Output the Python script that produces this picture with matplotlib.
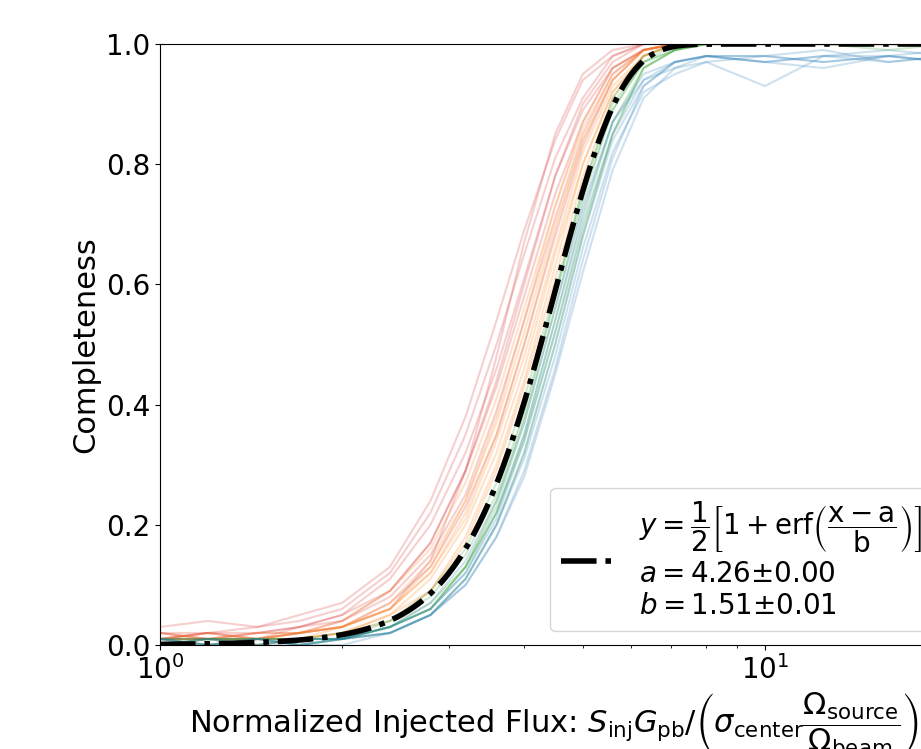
import math
import numpy as np
import matplotlib
matplotlib.use("Agg")
import matplotlib.pyplot as plt

# injected flux grid (normalized)
FLUX = [1.0, 1.2, 1.45, 1.7, 2.0, 2.4, 2.8, 3.2, 3.6, 4.0,
        4.5, 5.0, 5.6, 6.3, 7.1, 8.0, 10.0, 12.5, 16.0, 20.0]

# completeness curves, grouped by colour
RED_CURVES = [
    [.03, .04, .03, .05, .07, .13, .24, .38, .54, .69, .84, .94, .98, 1, 1, 1, 1, 1, 1, 1],
    [.02, .02, .03, .04, .06, .12, .22, .35, .50, .65, .81, .91, .98, 1, 1, 1, 1, 1, 1, 1],
    [.01, .02, .02, .03, .05, .11, .20, .32, .46, .61, .78, .89, .96, .99, 1, 1, 1, 1, 1, 1],
    [.02, .01, .02, .03, .05, .09, .17, .29, .43, .58, .75, .87, .96, .99, 1, 1, 1, 1, 1, 1],
    [.01, .02, .01, .02, .04, .08, .15, .25, .39, .54, .71, .85, .95, .99, 1, 1, 1, 1, 1, 1],
    [.01, .01, .02, .02, .03, .07, .13, .23, .35, .50, .68, .83, .94, .99, 1, 1, 1, 1, 1, 1],
    [.01, .02, .01, .02, .03, .06, .14, .29, .48, .67, .85, .95, .99, 1, 1, 1, 1, 1, 1, 1],
    [.02, .01, .01, .03, .04, .09, .17, .29, .44, .60, .78, .90, .97, 1, 1, 1, 1, 1, 1, 1],
]
ORANGE_CURVES = [
    [.01, .02, .01, .02, .04, .09, .16, .27, .41, .56, .73, .86, .95, .99, 1, 1, 1, 1, 1, 1],
    [.01, .01, .02, .02, .03, .07, .14, .24, .37, .52, .70, .84, .94, .99, 1, 1, 1, 1, 1, 1],
    [.00, .01, .01, .02, .03, .06, .12, .22, .35, .50, .69, .84, .94, .99, 1, 1, 1, 1, 1, 1],
    [.01, .01, .01, .01, .03, .06, .12, .21, .34, .48, .66, .82, .93, .98, 1, 1, 1, 1, 1, 1],
    [.01, .00, .01, .01, .02, .05, .11, .20, .32, .46, .65, .80, .92, .98, 1, 1, 1, 1, 1, 1],
    [.01, .01, .00, .01, .02, .04, .09, .18, .30, .44, .63, .80, .92, .98, 1, 1, 1, 1, 1, 1],
    [.01, .01, .01, .01, .02, .05, .09, .17, .29, .43, .61, .78, .91, .98, 1, 1, 1, 1, 1, 1],
    [.02, .01, .01, .02, .03, .06, .13, .24, .38, .54, .73, .87, .96, .99, 1, 1, 1, 1, 1, 1],
]
GREEN_CURVES = [
    [.01, .01, .01, .01, .02, .04, .09, .16, .27, .41, .59, .76, .90, .97, .99, 1, 1, 1, 1, 1],
    [.01, .01, .00, .01, .01, .04, .08, .15, .25, .39, .58, .75, .89, .97, .99, 1, 1, 1, 1, 1],
    [.00, .01, .01, .01, .01, .03, .06, .13, .23, .37, .56, .74, .89, .97, 1, 1, 1, 1, .99, 1],
    [.01, .00, .01, .01, .01, .03, .06, .13, .22, .35, .54, .71, .87, .96, .99, 1, 1, 1, 1, 1],
    [.00, .01, .00, .01, .01, .03, .07, .13, .22, .34, .52, .69, .85, .96, .99, 1, 1, 1, 1, 1],
    [.01, .00, .01, .00, .01, .03, .06, .13, .24, .38, .58, .76, .91, .98, 1, 1, 1, 1, 1, 1],
    [.00, .01, .01, .00, .01, .02, .05, .11, .20, .32, .50, .68, .85, .96, .99, 1, 1, 1, 1, 1],
]
BLUE_CURVES = [
    [.01, .00, .01, .01, .01, .03, .07, .14, .24, .37, .56, .73, .87, .95, .97, .98, .97, .98, .99, .98],
    [.00, .01, .01, .00, .01, .03, .06, .12, .21, .34, .52, .70, .85, .94, .97, .98, .98, .97, .98, .97],
    [.01, .00, .00, .01, .01, .02, .05, .11, .20, .31, .48, .66, .82, .92, .95, .97, .93, .98, .97, .98],
    [.00, .01, .00, .00, .01, .02, .05, .10, .18, .29, .46, .64, .81, .93, .97, .98, .97, .96, .98, .97],
    [.01, .00, .01, .00, .00, .02, .05, .10, .18, .28, .45, .62, .79, .91, .96, .97, .98, .97, .98, .97],
    [.00, .00, .01, .00, .01, .02, .05, .11, .20, .32, .50, .68, .84, .93, .97, .98, .98, .99, .97, .98],
    [.01, .01, .00, .01, .01, .03, .06, .12, .22, .35, .54, .72, .87, .94, .96, .98, .97, .98, .98, .99],
]
GROUP_COLORS = ["tab:red", "tab:orange", "tab:green", "tab:blue"]

# erf fit parameters (from legend)
FIT_A, FIT_A_ERR = 4.26, 0.00
FIT_B, FIT_B_ERR = 1.51, 0.01

plt.rcParams["font.size"] = 20

fig = plt.figure(figsize=(9.21, 7.49), dpi=100)
ax = fig.add_axes([160 / 921, 104 / 749, 787 / 921, 601 / 749])

for curves, color in zip([RED_CURVES, ORANGE_CURVES, GREEN_CURVES, BLUE_CURVES], GROUP_COLORS):
    for c in curves:
        ax.plot(FLUX, c, color=color, alpha=0.22, lw=1.5)

x_fit = np.geomspace(FLUX[0], FLUX[-1], 400)
y_fit = [0.5 * (1 + math.erf((x - FIT_A) / FIT_B)) for x in x_fit]
label = (r"$y=\dfrac{1}{2}\left[1+\mathrm{erf}\left(\dfrac{\mathrm{x-a}}{\mathrm{b}}\right)\right]$" + "\n"
         + rf"$a={FIT_A:.2f}{{\pm}}{FIT_A_ERR:.2f}$" + "\n"
         + rf"$b={FIT_B:.2f}{{\pm}}{FIT_B_ERR:.2f}$")
ax.plot(x_fit, y_fit, "k-.", lw=4, label=label, zorder=5)

ax.set_xscale("log")
ax.set_xlim(1, 20)
ax.set_ylim(0, 1)
ax.set_ylabel("Completeness", fontsize=22)
ax.set_xlabel(r"Normalized Injected Flux: $S_{\rm inj}G_{\rm pb}/\left(\sigma_{\rm center}"
              r"\dfrac{\Omega_{\rm source}}{\Omega_{\rm beam}}\right)$", fontsize=22)
ax.legend(loc="lower right")

fig.savefig("out.png", dpi=100)
